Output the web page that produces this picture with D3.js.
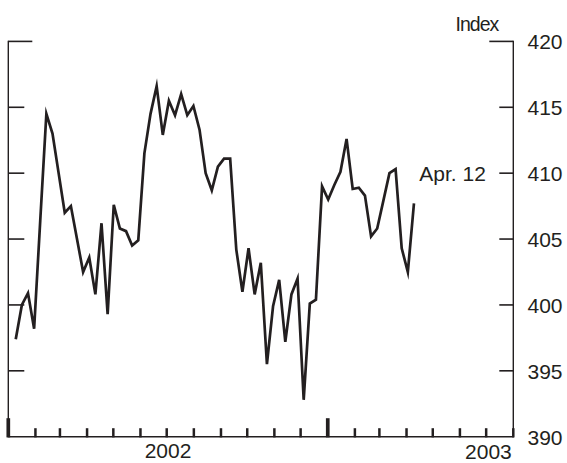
<!DOCTYPE html>
<html>
<head>
<meta charset="utf-8">
<script src="https://cdn.jsdelivr.net/npm/d3@7"></script>
<style>
  html, body { margin: 0; padding: 0; background: #fff; }
  svg { display: block; }
  text { font-family: "Liberation Sans", Arial, Helvetica, sans-serif; fill: #231f20; }
</style>
</head>
<body>
<svg id="chart" width="567" height="463"></svg>
<script>
// Weekly index readings, week ending Saturday, from Jan. 12, 2002 through Apr. 12, 2003
const firstWeekEnding = "2002-01-12";
const indexValues = [
  397.4, 400.0, 400.9, 398.2, 406.4, 414.5, 413.0, 410.0, 407.0, 407.5,
  405.0, 402.5, 403.6, 400.8, 406.2, 399.3, 407.6, 405.8, 405.6, 404.5,
  404.9, 411.5, 414.5, 416.6, 412.9, 415.5, 414.4, 416.0, 414.4, 415.1,
  413.3, 410.0, 408.7, 410.5, 411.1, 411.1, 404.2, 401.0, 404.3, 400.8,
  403.2, 395.5, 399.9, 401.9, 397.2, 400.8, 402.0, 392.8, 400.1, 400.4,
  409.0, 408.0, 409.1, 410.1, 412.6, 408.8, 408.9, 408.3, 405.2, 405.8,
  407.9, 410.0, 410.3, 404.3, 402.5, 407.7
];
const yTickValues = [390, 395, 400, 405, 410, 415, 420];
const yearLabels = ["2002", "2003"];
const lastLabel = "Apr. 12";
const unitLabel = "Index";

const parse = d3.timeParse("%Y-%m-%d");
const start = parse(firstWeekEnding);
// each weekly reading is placed at the middle of its week
const data = indexValues.map((v, i) => ({
  date: d3.timeHour.offset(d3.timeDay.offset(start, 7 * i), -60),
  value: v
}));

const svg = d3.select("#chart");
const ink = "#231f20";

const plotLeft = 8.3, plotRight = 513.3, plotTop = 41.4, plotBottom = 436.7;

const x = d3.scaleTime()
  .domain([new Date(2002, 0, 1), new Date(2003, 7, 1)])
  .range([plotLeft, plotRight]);
const y = d3.scaleLinear()
  .domain([390, 420])
  .range([plotBottom, plotTop]);

// frame: left, right and bottom rules
svg.append("line").attr("x1", plotLeft).attr("x2", plotLeft).attr("y1", plotTop - 0.7).attr("y2", plotBottom)
  .attr("stroke", ink).attr("stroke-width", 1.4);
svg.append("line").attr("x1", plotRight).attr("x2", plotRight).attr("y1", plotTop - 0.7).attr("y2", plotBottom)
  .attr("stroke", ink).attr("stroke-width", 1.4);
svg.append("line").attr("x1", plotLeft - 0.7).attr("x2", plotRight + 0.7).attr("y1", plotBottom).attr("y2", plotBottom)
  .attr("stroke", ink).attr("stroke-width", 1.4);

// left ticks (inward)
svg.append("g").selectAll("line")
  .data(yTickValues.filter(v => v > 390))
  .join("line")
  .attr("x1", plotLeft)
  .attr("x2", d => d === 420 ? plotLeft + 24 : plotLeft + 16)
  .attr("y1", d => y(d)).attr("y2", d => y(d))
  .attr("stroke", ink).attr("stroke-width", 1.6);

// right ticks (inward) with labels outside
svg.append("g").selectAll("line")
  .data(yTickValues.filter(v => v > 390))
  .join("line")
  .attr("x1", plotRight)
  .attr("x2", d => d === 420 ? plotRight - 24 : plotRight - 14)
  .attr("y1", d => y(d)).attr("y2", d => y(d))
  .attr("stroke", ink).attr("stroke-width", 1.6);

svg.append("g").selectAll("text")
  .data(yTickValues)
  .join("text")
  .attr("x", 527.5)
  .attr("y", d => y(d) + 8)
  .attr("font-size", 21)
  .text(d => d);

svg.append("text")
  .attr("x", plotRight - 15)
  .attr("y", 31)
  .attr("text-anchor", "end")
  .attr("font-size", 19.5)
  .attr("letter-spacing", -1)
  .text(unitLabel);

// month ticks on the bottom rule; year boundaries get tall heavy ticks
const months = d3.timeMonth.range(new Date(2002, 0, 1), new Date(2003, 7, 2));
svg.append("g").selectAll("line")
  .data(months)
  .join("line")
  .attr("x1", d => x(d)).attr("x2", d => x(d))
  .attr("y1", plotBottom + 0.7)
  .attr("y2", d => d.getMonth() === 0 ? plotBottom - 18.5 : plotBottom - 8.5)
  .attr("stroke", ink)
  .attr("stroke-width", d => d.getMonth() === 0 ? 3.7 : 2.5);

// year labels
svg.append("text")
  .attr("x", (x(new Date(2002, 0, 1)) + x(new Date(2003, 0, 1))) / 2)
  .attr("y", 458.3)
  .attr("text-anchor", "middle")
  .attr("font-size", 21)
  .text(yearLabels[0]);
svg.append("text")
  .attr("x", plotRight - 1.5)
  .attr("y", 458.8)
  .attr("text-anchor", "end")
  .attr("font-size", 21)
  .text(yearLabels[1]);

// series line
const line = d3.line()
  .x(d => x(d.date))
  .y(d => y(d.value));
svg.append("path")
  .datum(data)
  .attr("d", line)
  .attr("fill", "none")
  .attr("stroke", ink)
  .attr("stroke-width", 2.7)
  .attr("stroke-linejoin", "miter")
  .attr("stroke-miterlimit", 6);

// label for the latest reading
svg.append("text")
  .attr("x", 419.3)
  .attr("y", y(410) + 8)
  .attr("font-size", 21)
  .text(lastLabel);
</script>
</body>
</html>
